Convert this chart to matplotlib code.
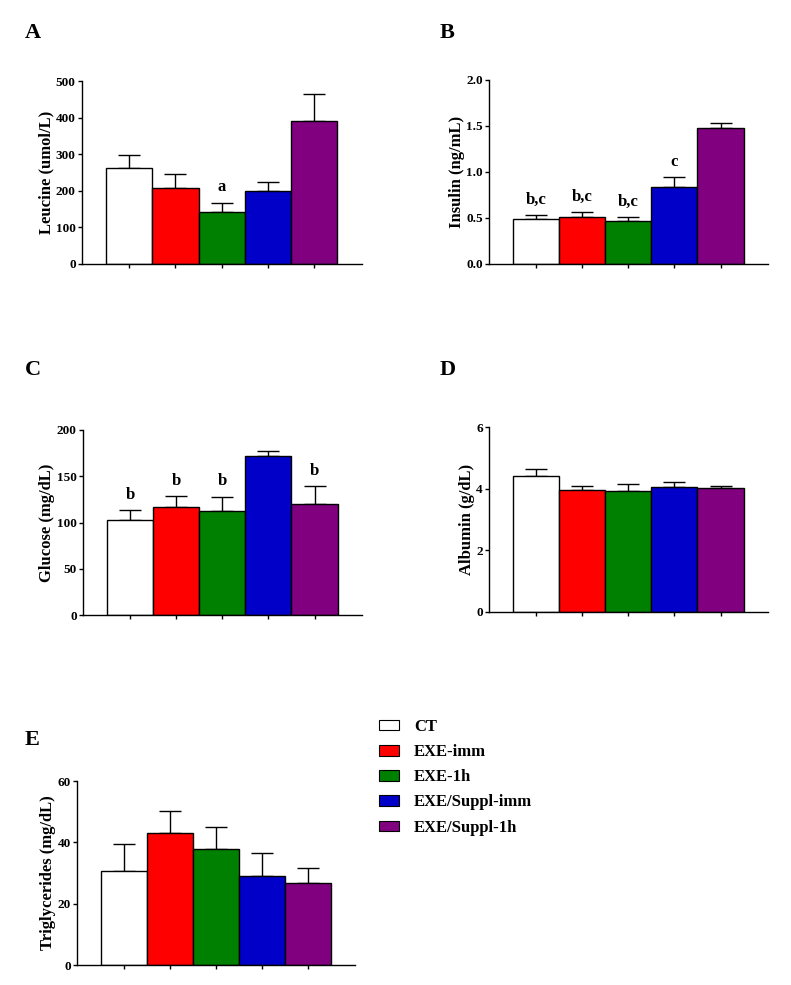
import matplotlib
matplotlib.use("Agg")
import matplotlib.pyplot as plt
from matplotlib.patches import Patch

plt.rcParams['font.family'] = ['Liberation Serif', 'DejaVu Serif']
plt.rcParams['font.weight'] = 'bold'

groups = ["CT", "EXE-imm", "EXE-1h", "EXE/Suppl-imm", "EXE/Suppl-1h"]
colors = ["#FFFFFF", "#FF0000", "#008000", "#0000C8", "#800080"]

leucine = [263, 207, 142, 200, 390]
leucine_err = [35, 38, 26, 23, 75]
leucine_sig = ["", "", "a", "", ""]

insulin = [0.488, 0.514, 0.463, 0.839, 1.479]
insulin_err = [0.047, 0.054, 0.051, 0.109, 0.058]
insulin_sig = ["b,c", "b,c", "b,c", "c", ""]

glucose = [102.5, 116.5, 112.5, 172, 120.5]
glucose_err = [11, 12, 15.5, 5, 18.5]
glucose_sig = ["b", "b", "b", "", "b"]

albumin = [4.42, 3.96, 3.92, 4.04, 4.01]
albumin_err = [0.23, 0.14, 0.22, 0.17, 0.09]
albumin_sig = ["", "", "", "", ""]

trig = [30.6, 42.9, 37.7, 29.0, 26.8]
trig_err = [8.7, 7.4, 7.4, 7.4, 4.7]
trig_sig = ["", "", "", "", ""]

panels = [
    ("A", leucine, leucine_err, leucine_sig, "Leucine (umol/L)", 500, [0, 100, 200, 300, 400, 500], ["0", "100", "200", "300", "400", "500"]),
    ("B", insulin, insulin_err, insulin_sig, "Insulin (ng/mL)", 2.0, [0, 0.5, 1.0, 1.5, 2.0], ["0.0", "0.5", "1.0", "1.5", "2.0"]),
    ("C", glucose, glucose_err, glucose_sig, "Glucose (mg/dL)", 200, [0, 50, 100, 150, 200], ["0", "50", "100", "150", "200"]),
    ("D", albumin, albumin_err, albumin_sig, "Albumin (g/dL)", 6, [0, 2, 4, 6], ["0", "2", "4", "6"]),
    ("E", trig, trig_err, trig_sig, "Triglycerides (mg/dL)", 60, [0, 20, 40, 60], ["0", "20", "40", "60"]),
]

W, H = 791, 985
# pixel rects: left, right, top, bottom
rects = [
    (82, 362, 81, 264),
    (489, 768, 80, 264),
    (83, 362, 430, 615),
    (489, 768, 427, 612),
    (77, 355, 781, 965),
]
letter_pos = [(25, 38), (440, 38), (25, 375), (440, 375), (25, 745)]

fig = plt.figure(figsize=(W / 100, H / 100), dpi=100)

x = list(range(len(groups)))
for (lab, vals, errs, sig, ylab, ymax, yt, ytl), (l, r, t, b), (lx, ly) in zip(panels, rects, letter_pos):
    ax = fig.add_axes([l / W, 1 - b / H, (r - l) / W, (b - t) / H])
    ax.bar(x, vals, width=1.0, color=colors, edgecolor="black", linewidth=1.0, zorder=2)
    ax.errorbar(x, vals, yerr=[[0] * len(vals), errs], fmt="none", ecolor="black",
                elinewidth=1.0, capsize=8, capthick=1.0, zorder=1)
    for xi, v, e, s in zip(x, vals, errs, sig):
        if s:
            ax.annotate(s, (xi, v + e), xytext=(0, 11), textcoords="offset points",
                        ha="center", va="center", fontsize=12, fontweight="bold")
    ax.set_xlim(-1.02, 5.03)
    ax.set_ylim(0, ymax)
    ax.set_yticks(yt)
    ax.set_yticklabels(ytl, fontsize=9.5, fontweight="bold")
    ax.set_xticks(x)
    ax.set_xticklabels([])
    ax.tick_params(axis="both", direction="out", length=3, width=1.0, pad=1.5)
    for sp in ["top", "right"]:
        ax.spines[sp].set_visible(False)
    for sp in ["left", "bottom"]:
        ax.spines[sp].set_linewidth(1.0)
    ax.set_ylabel(ylab, fontsize=12, fontweight="bold", labelpad=1)
    fig.text(lx / W, 1 - ly / H, lab, fontsize=16, fontweight="bold", ha="left", va="baseline")

handles = [Patch(facecolor=c, edgecolor="black", linewidth=0.8) for c in colors]
fig.legend(handles, groups, loc="upper left", bbox_to_anchor=(379 / W, 1 - 719 / H),
           frameon=False, prop={"family": "Liberation Serif", "weight": "bold", "size": 12},
           handlelength=1.2, handleheight=0.6, handletextpad=0.9, labelspacing=0.55,
           borderaxespad=0, borderpad=0)

fig.savefig("out.png", dpi=100)
